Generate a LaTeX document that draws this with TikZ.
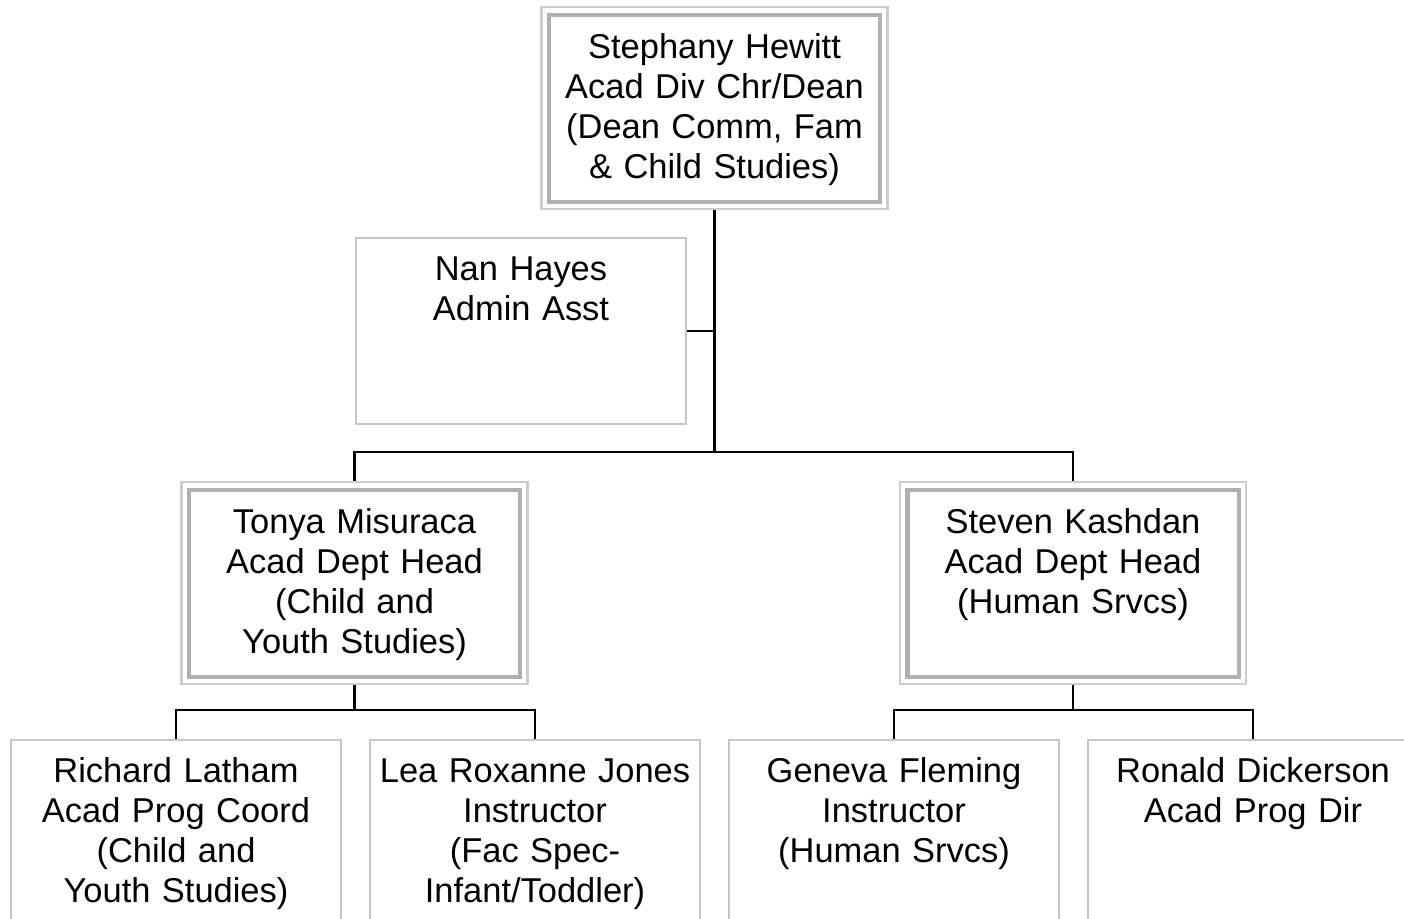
\documentclass[tikz,border=0pt]{standalone}
\usepackage{fontspec}
\setmainfont{Liberation Sans}
\usepackage{tikz}
\usetikzlibrary{calc}

\tikzset{
  staffbox/.style={draw=gray!45, line width=0.6pt, anchor=north, inner sep=0pt,
    align=center, text width=3.30cm, minimum width=3.30cm,
    text height=0.42cm, text depth=1.44cm,
    font=\fontsize{9.8}{11.38}\selectfont},
  headbox/.style={staffbox, draw=gray!40, text width=3.46cm, minimum width=3.46cm,
    text height=0.51cm, text depth=1.51cm,
    path picture={\draw[draw=gray!62, line width=1.15pt]
      ([shift={(0.075,-0.075)}]path picture bounding box.north west) rectangle
      ([shift={(-0.075,0.075)}]path picture bounding box.south east);}},
  link/.style={draw=black, line width=0.7pt}
}

\begin{document}
\begin{tikzpicture}

  \useasboundingbox (0,0) rectangle (14.04,-9.19);
  \clip (0,0) rectangle (14.04,-9.19);

  \node[headbox, name=dean] at (7.145,-0.06) {Stephany Hewitt\\Acad Div Chr/Dean\\(Dean Comm, Fam\\\& Child Studies)};
  \node[staffbox, name=asst] at (5.21,-2.37) {Nan Hayes\\Admin Asst};

  \node[headbox, name=tonya] at (3.545,-4.81) {Tonya Misuraca\\Acad Dept Head\\(Child and\\Youth Studies)};
  \node[headbox, name=steven] at (10.73,-4.81) {Steven Kashdan\\Acad Dept Head\\(Human Srvcs)};

  \node[staffbox, name=richard] at (1.76,-7.39) {Richard Latham\\Acad Prog Coord\\(Child and\\Youth Studies)};
  \node[staffbox, name=lea] at (5.35,-7.39) {Lea Roxanne Jones\\Instructor\\(Fac Spec-\\Infant/Toddler)};
  \node[staffbox, name=geneva] at (8.94,-7.39) {Geneva Fleming\\Instructor\\(Human Srvcs)};
  \node[staffbox, name=ronald] at (12.53,-7.39) {Ronald Dickerson\\Acad Prog Dir};

  % connectors
  \coordinate (deanbus) at (dean.south |- 0,-4.52);
  \draw[link] (dean.south) -- (deanbus);
  \draw[link] (asst.east) -- (asst.east -| dean.south);
  \draw[link] (tonya.north) |- (deanbus) -| (steven.north);

  \coordinate (tonyabus) at (tonya.south |- 0,-7.10);
  \draw[link] (tonya.south) -- (tonyabus);
  \draw[link] (richard.north) |- (tonyabus) -| (lea.north);

  \coordinate (stevenbus) at (steven.south |- 0,-7.10);
  \draw[link] (steven.south) -- (stevenbus);
  \draw[link] (geneva.north) |- (stevenbus) -| (ronald.north);

\end{tikzpicture}
\end{document}
